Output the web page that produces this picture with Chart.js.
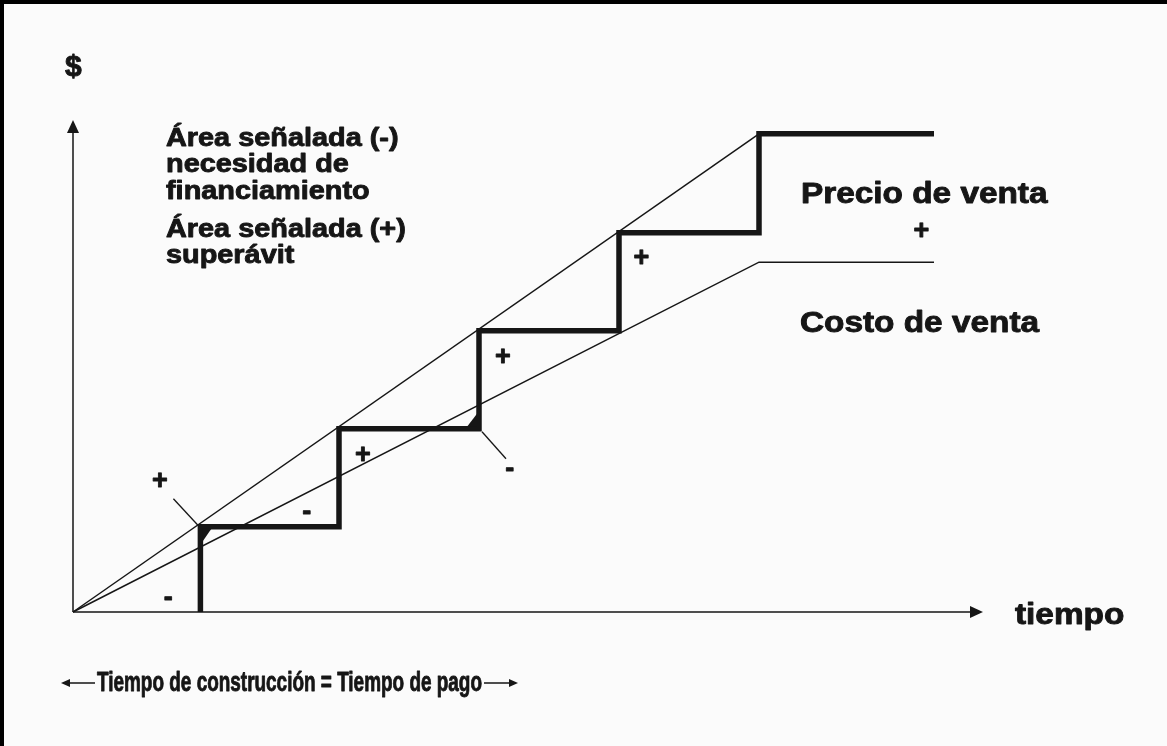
<!DOCTYPE html>
<html>
<head>
<meta charset="utf-8">
<script src="https://cdn.jsdelivr.net/npm/chart.js"></script>
<style>
  html, body { margin: 0; padding: 0; background: #fbfbfb; }
  canvas { display: block; }
</style>
</head>
<body>
<canvas id="c" width="1167" height="746"></canvas>
<script>
// time axis: construction periods, value axis: $
var stepX = [0.91, 1.9, 2.9, 3.9, 4.9];       // payment instants
var stepY = [0.87, 1.87, 2.87, 3.87, 4.88];   // cumulative payments
var stepEndX = 6.15;
var priceX = [0, 4.9];
var priceY = [0, 4.88];
var costX = [0, 4.9, 6.15];
var costY = [0, 3.57, 3.57];
var axisMaxX = 6.5;
var axisMaxY = 5.02;

// sign labels: text, x, y (data units)
var signText = ["+", "-", "-", "+", "-", "+", "+", "+"];
var signX = [0.62, 0.68, 1.67, 2.07, 3.12, 3.07, 4.06, 6.06];
var signY = [1.33, 0.14, 1.01, 1.60, 1.45, 2.60, 3.61, 3.88];

function pts(xs, ys) {
  return xs.map(function (x, i) { return { x: x, y: ys[i] }; });
}

var stepPts = [{ x: stepX[0], y: 0 }];
for (var i = 0; i < stepX.length; i++) {
  stepPts.push({ x: stepX[i], y: stepY[i] });
  var nx = i + 1 < stepX.length ? stepX[i + 1] : stepEndX;
  stepPts.push({ x: nx, y: stepY[i] });
}

// bold scanned look: fill + thin stroke, optional horizontal stretch
function fitText(ctx, txt, x, y, font, sx, align) {
  ctx.save();
  ctx.font = font;
  ctx.translate(x, y);
  ctx.scale(sx, 1);
  ctx.textBaseline = align ? "middle" : "alphabetic";
  ctx.textAlign = align || "left";
  ctx.lineWidth = 0.9;
  ctx.lineJoin = "round";
  ctx.fillText(txt, 0, 0);
  ctx.strokeText(txt, 0, 0);
  ctx.restore();
}

function tri(ctx, a, b, c) {
  ctx.beginPath();
  ctx.moveTo(a[0], a[1]);
  ctx.lineTo(b[0], b[1]);
  ctx.lineTo(c[0], c[1]);
  ctx.closePath();
  ctx.fill();
}

var sketch = {
  id: "sketch",
  beforeDraw: function (chart) {
    var ctx = chart.ctx;
    ctx.save();
    ctx.fillStyle = "#fbfbfb";
    ctx.fillRect(0, 0, chart.width, chart.height);
    ctx.fillStyle = "#000";
    ctx.fillRect(0, 0, chart.width, 4);
    ctx.fillRect(0, 0, 4, chart.height);
    ctx.restore();
  },
  afterDatasetsDraw: function (chart) {
    var ctx = chart.ctx;
    var xs = chart.scales.x, ys = chart.scales.y;
    var ox = xs.getPixelForValue(0), oy = ys.getPixelForValue(0);
    var tx = xs.getPixelForValue(axisMaxX), ty = ys.getPixelForValue(axisMaxY);
    ctx.save();
    ctx.strokeStyle = "#161616";
    ctx.fillStyle = "#161616";
    ctx.lineWidth = 1.5;
    // axes
    ctx.beginPath();
    ctx.moveTo(ox, oy); ctx.lineTo(tx - 8, oy);
    ctx.moveTo(ox, oy); ctx.lineTo(ox, ty + 8);
    ctx.stroke();
    tri(ctx, [tx, oy], [tx - 13, oy - 6], [tx - 13, oy + 6]);
    tri(ctx, [ox, ty], [ox - 6, ty + 13], [ox + 6, ty + 13]);

    // pointer lines to corners
    var c1x = xs.getPixelForValue(stepX[0]), c1y = ys.getPixelForValue(stepY[0]);
    ctx.lineWidth = 1.3;
    ctx.beginPath();
    ctx.moveTo(c1x - 27, c1y - 28); ctx.lineTo(c1x - 2, c1y - 1);
    ctx.stroke();
    tri(ctx, [c1x + 2, c1y + 2], [c1x + 11, c1y + 2], [c1x + 2, c1y + 15]);
    var c3x = xs.getPixelForValue(stepX[2]), c3y = ys.getPixelForValue(stepY[1]);
    ctx.beginPath();
    ctx.moveTo(c3x + 3, c3y + 3); ctx.lineTo(c3x + 27, c3y + 30);
    ctx.stroke();
    tri(ctx, [c3x - 2, c3y - 2], [c3x - 12, c3y - 2], [c3x - 2, c3y - 15]);

    // signs
    var fs = "bold 27px 'Liberation Sans', Arial, sans-serif";
    for (var k = 0; k < signText.length; k++) {
      fitText(ctx, signText[k], xs.getPixelForValue(signX[k]), ys.getPixelForValue(signY[k]), fs, 1, "center");
    }

    // texts
    var f26 = "bold 26px 'Liberation Sans', Arial, sans-serif";
    var f29 = "bold 29px 'Liberation Sans', Arial, sans-serif";
    fitText(ctx, "$", 65, 76, "bold 30px 'Liberation Sans', Arial, sans-serif", 1.0);
    fitText(ctx, "Área señalada (-)", 166, 146, f26, 1.11);
    fitText(ctx, "necesidad de", 166, 172, f26, 1.11);
    fitText(ctx, "financiamiento", 166, 199, f26, 1.11);
    fitText(ctx, "Área señalada (+)", 166, 237, f26, 1.11);
    fitText(ctx, "superávit", 166, 263, f26, 1.11);
    fitText(ctx, "Precio de venta", 801, 203, f29, 1.15);
    fitText(ctx, "Costo de venta", 800, 332, f29, 1.15);
    fitText(ctx, "tiempo", 1015, 624, f29, 1.15);

    // bottom caption with arrows
    var cap = "Tiempo de construcción = Tiempo de pago";
    var fN = "bold 27px 'Liberation Sans Narrow', 'Arial Narrow', sans-serif";
    ctx.font = fN;
    var w = ctx.measureText(cap).width;
    fitText(ctx, cap, 97, 691, fN, 385 / w);
    ctx.lineWidth = 1.5;
    ctx.beginPath();
    ctx.moveTo(68, 683); ctx.lineTo(95, 683);
    ctx.moveTo(484, 683); ctx.lineTo(511, 683);
    ctx.stroke();
    tri(ctx, [61, 683], [70, 679], [70, 687]);
    tri(ctx, [518, 683], [509, 679], [509, 687]);
    ctx.restore();
  }
};

new Chart(document.getElementById("c").getContext("2d"), {
  type: "scatter",
  data: {
    datasets: [
      {
        label: "Precio de venta",
        data: pts(priceX, priceY),
        showLine: true,
        borderColor: "#161616",
        borderWidth: 1.5,
        pointRadius: 0,
        clip: false
      },
      {
        label: "Costo de venta",
        data: pts(costX, costY),
        showLine: true,
        borderColor: "#161616",
        borderWidth: 1.5,
        pointRadius: 0,
        clip: false
      },
      {
        label: "Pagos",
        data: stepPts,
        showLine: true,
        borderColor: "#161616",
        borderWidth: 5.5,
        borderJoinStyle: "miter",
        borderCapStyle: "butt",
        pointRadius: 0,
        clip: false
      }
    ]
  },
  options: {
    responsive: false,
    animation: false,
    devicePixelRatio: 1,
    layout: { padding: { left: 73, right: 170, top: 102.4, bottom: 134 } },
    plugins: { legend: { display: false }, tooltip: { enabled: false } },
    scales: {
      x: { type: "linear", min: 0, max: 6.6, display: false },
      y: { type: "linear", min: 0, max: 5.2, display: false }
    }
  },
  plugins: [sketch]
});
</script>
</body>
</html>
